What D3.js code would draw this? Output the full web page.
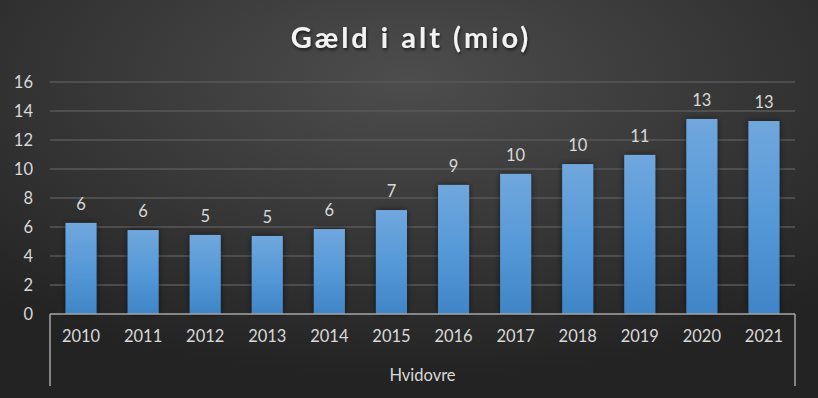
<!DOCTYPE html>
<html>
<head>
<meta charset="utf-8">
<script src="https://cdn.jsdelivr.net/npm/d3@7/dist/d3.min.js"></script>
<style>
  body { margin: 0; background: #2b2b2b; }
  svg { display: block; }
  text { font-family: Lato, "Open Sans", "Liberation Sans", sans-serif; }
</style>
</head>
<body>
<div id="chart"></div>
<script>
// data
const years = ["2010", "2011", "2012", "2013", "2014", "2015", "2016", "2017", "2018", "2019", "2020", "2021"];
const debt = [6.28, 5.79, 5.45, 5.38, 5.86, 7.17, 8.9, 9.66, 10.34, 10.97, 13.45, 13.31];
const yTicks = [0, 2, 4, 6, 8, 10, 12, 14, 16];
const groupLabel = "Hvidovre";
const title = "Gæld i alt (mio)";

const w = 818, h = 398;
const margin = {top: 82, right: 23, bottom: 84, left: 50};
const width = w - margin.left - margin.right;
const height = h - margin.top - margin.bottom;

const svg = d3.select("#chart").append("svg")
    .attr("width", w)
    .attr("height", h);

const defs = svg.append("defs");

const bg = defs.append("radialGradient")
    .attr("id", "bg")
    .attr("cx", "50%").attr("cy", "20%").attr("r", "75%");
bg.append("stop").attr("offset", "0%").attr("stop-color", "#4d4d4d");
bg.append("stop").attr("offset", "100%").attr("stop-color", "#232323");

const barGrad = defs.append("linearGradient")
    .attr("id", "barGrad")
    .attr("x1", 0).attr("y1", 0).attr("x2", 0).attr("y2", 1);
barGrad.append("stop").attr("offset", "0%").attr("stop-color", "#70a7dd");
barGrad.append("stop").attr("offset", "50%").attr("stop-color", "#5699d8");
barGrad.append("stop").attr("offset", "100%").attr("stop-color", "#3f85c7");

const shadow = defs.append("filter").attr("id", "shadow")
    .attr("x", "-30%").attr("y", "-10%").attr("width", "160%").attr("height", "120%");
shadow.append("feDropShadow")
    .attr("dx", 0).attr("dy", 0).attr("stdDeviation", 3)
    .attr("flood-color", "#000").attr("flood-opacity", 0.55);

const tshadow = defs.append("filter").attr("id", "tshadow");
tshadow.append("feDropShadow")
    .attr("dx", 1).attr("dy", 2).attr("stdDeviation", 1.5)
    .attr("flood-color", "#000").attr("flood-opacity", 0.6);

svg.append("rect")
    .attr("width", w).attr("height", h)
    .attr("fill", "url(#bg)");

svg.append("text")
    .attr("x", w / 2 + 2)
    .attr("y", 48)
    .attr("text-anchor", "middle")
    .attr("fill", "#f2f2f2")
    .attr("font-size", 29)
    .attr("font-weight", "bold")
    .attr("letter-spacing", 3)
    .attr("filter", "url(#tshadow)")
    .text(title);

const chart = svg.append("g")
    .attr("transform", "translate(" + margin.left + "," + margin.top + ")");

const x = d3.scaleBand()
    .domain(years)
    .range([0, width])
    .paddingInner(0.5)
    .paddingOuter(0.25);

const y = d3.scaleLinear()
    .domain([0, 16])
    .range([height, 0]);

// gridlines
chart.append("g")
    .selectAll("line")
    .data(yTicks.slice(1))
    .join("line")
    .attr("x1", 0)
    .attr("x2", width)
    .attr("y1", d => y(d))
    .attr("y2", d => y(d))
    .attr("stroke", "#595959")
    .attr("stroke-width", 1.3);

// y axis labels
const yAxis = chart.append("g")
    .call(d3.axisLeft(y).tickValues(yTicks).tickSize(0).tickPadding(17));
yAxis.select(".domain").remove();
yAxis.selectAll("text")
    .attr("fill", "#d9d9d9")
    .attr("font-size", 16.5)
    .attr("dy", "0.35em");

// bars
chart.append("g")
    .selectAll("rect")
    .data(debt)
    .join("rect")
    .attr("x", (d, i) => x(years[i]))
    .attr("y", d => y(d))
    .attr("width", x.bandwidth())
    .attr("height", d => height - y(d))
    .attr("fill", "url(#barGrad)")
    .attr("filter", "url(#shadow)");

// value labels
chart.append("g")
    .selectAll("text")
    .data(debt)
    .join("text")
    .attr("x", (d, i) => x(years[i]) + x.bandwidth() / 2)
    .attr("y", d => y(d) - 13)
    .attr("text-anchor", "middle")
    .attr("fill", "#d9d9d9")
    .attr("font-size", 16.5)
    .text(d => Math.round(d));

// category axis
const xAxis = chart.append("g")
    .attr("transform", "translate(0," + height + ")")
    .call(d3.axisBottom(x).tickSize(0).tickPadding(16));
xAxis.select(".domain").remove();
xAxis.selectAll("text")
    .attr("fill", "#d9d9d9")
    .attr("font-size", 16.5);

const axisColor = "#a6a6a6";
chart.append("line")
    .attr("x1", 0).attr("x2", width)
    .attr("y1", height).attr("y2", height)
    .attr("stroke", axisColor).attr("stroke-width", 1.5);
chart.append("line")
    .attr("x1", 0).attr("x2", 0)
    .attr("y1", height).attr("y2", height + 72)
    .attr("stroke", axisColor).attr("stroke-width", 1.5);
chart.append("line")
    .attr("x1", width).attr("x2", width)
    .attr("y1", height).attr("y2", height + 72)
    .attr("stroke", axisColor).attr("stroke-width", 1.5);

chart.append("text")
    .attr("x", width / 2)
    .attr("y", height + 67)
    .attr("text-anchor", "middle")
    .attr("fill", "#d9d9d9")
    .attr("font-size", 16.5)
    .text(groupLabel);
</script>
</body>
</html>
